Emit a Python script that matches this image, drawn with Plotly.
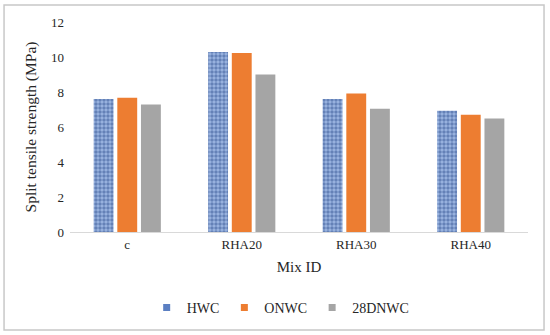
import plotly.graph_objects as go

categories = ["c", "RHA20", "RHA30", "RHA40"]
hwc = [7.6, 10.29, 7.6, 6.93]
onwc = [7.67, 10.23, 7.92, 6.70]
dnwc28 = [7.29, 9.0, 7.04, 6.49]
y_ticks = [0, 2, 4, 6, 8, 10, 12]

font_family = "Liberation Serif"
txt = "#262626"

fig = go.Figure()
fig.add_trace(go.Bar(
    name="HWC", x=categories, y=hwc, showlegend=False,
    marker=dict(color="#8FAADC", line=dict(width=0),
                pattern=dict(shape=".", fgcolor="#2B4C8C", bgcolor="#9CB6E2",
                             size=4, solidity=0.6)),
))
fig.add_trace(go.Bar(name="ONWC", x=categories, y=onwc, showlegend=False,
                     marker=dict(color="#ED7D31", line=dict(width=0))))
fig.add_trace(go.Bar(name="28DNWC", x=categories, y=dnwc28, showlegend=False,
                     marker=dict(color="#A5A5A5", line=dict(width=0))))

# legend entries (small square keys as in the original)
for name, col in [("HWC", "#5B7FC2"), ("ONWC", "#ED7D31"), ("28DNWC", "#A5A5A5")]:
    fig.add_trace(go.Scatter(x=[None], y=[None], mode="markers", name=name,
                             marker=dict(symbol="square", size=7, color=col)))

fig.update_layout(
    width=550, height=335,
    barmode="group", bargap=0.38, bargroupgap=0.16,
    paper_bgcolor="white", plot_bgcolor="white",
    margin=dict(l=70, r=22, t=22, b=103, autoexpand=False),
    font=dict(family=font_family, size=13, color=txt),
    showlegend=True,
    legend=dict(orientation="h", x=0.46, xanchor="center", y=-0.362, yanchor="middle",
                font=dict(size=14, color=txt, family=font_family), itemwidth=30,
                tracegroupgap=0, traceorder="normal"),
    xaxis=dict(showline=True, linecolor="#D9D9D9", linewidth=1,
               ticks="", tickfont=dict(size=13, color=txt),
               title=dict(text="Mix ID", font=dict(size=15, color=txt), standoff=10)),
    yaxis=dict(range=[0, 12], tickvals=y_ticks, showgrid=False, zeroline=False,
               showline=False, ticks="", tickfont=dict(size=13, color=txt),
               ticklabelstandoff=5,
               title=dict(text="Split tensile strength (MPa)",
                          font=dict(size=15.5, color=txt), standoff=10)),
)

fig.add_shape(type="rect", xref="paper", yref="paper",
              x0=-0.144, x1=1.035, y0=-0.467, y1=1.081,
              line=dict(color="#C8C8C8", width=1.5), fillcolor="rgba(0,0,0,0)",
              layer="above")

fig.write_html("out.html", config={"displayModeBar": False},
               post_script="document.body.style.margin='0';document.body.style.overflow='hidden';")
